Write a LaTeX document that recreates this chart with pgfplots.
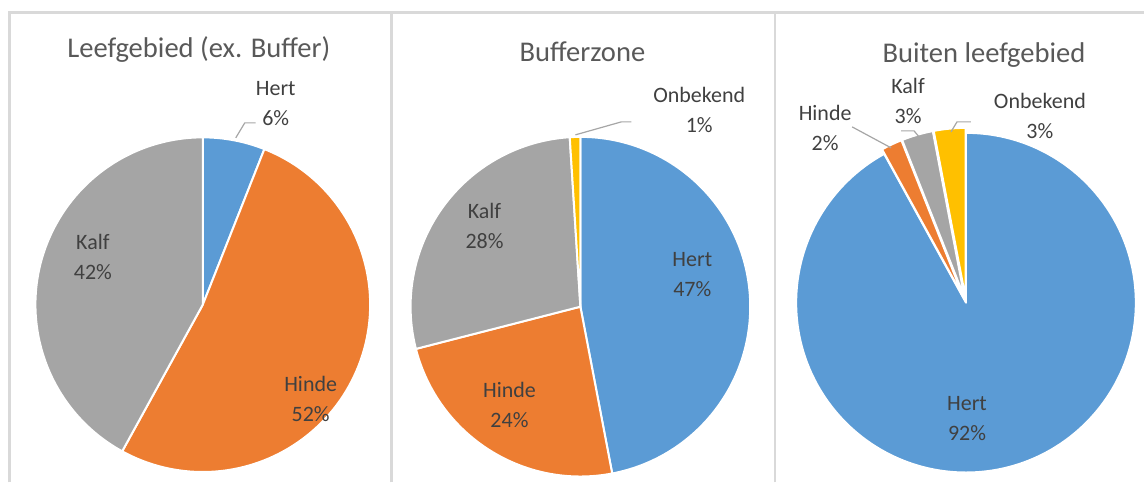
\documentclass[border=0pt]{standalone}
\usepackage{pgfplots}
\pgfplotsset{compat=1.18}
\usepackage{fontspec}
\setmainfont{Carlito}
\definecolor{pblue}{HTML}{5B9BD5}
\definecolor{porange}{HTML}{ED7D31}
\definecolor{pgray}{HTML}{A5A5A5}
\definecolor{pyellow}{HTML}{FFC000}
\definecolor{txt}{HTML}{404040}
\definecolor{ttl}{HTML}{595959}
\definecolor{frame}{HTML}{D9D9D9}
\definecolor{lead}{HTML}{A6A6A6}

% #1,#2 centre (axis units = px), #3 radius (pt), #4 list value/colour/explode(pt)
\newcommand\pie[4]{%
  \gdef\pcum{0}%
  \foreach \v/\c/\e in {#4}{%
    \pgfmathsetmacro\aA{90-3.6*\pcum}%
    \pgfmathsetmacro\aB{90-3.6*(\pcum+\v)}%
    \pgfmathsetmacro\aM{(\aA+\aB)/2}%
    \edef\tmp{\noexpand\fill[\c, draw=white, line width=1pt, line join=round]
      (axis cs:#1,#2) ++(\aM:\e pt) -- ++(\aA:#3pt)
      arc[start angle=\aA, end angle=\aB, radius=#3pt] -- cycle;}%
    \tmp
    \pgfmathsetmacro\pnew{\pcum+\v}\xdef\pcum{\pnew}%
  }}

\begin{document}
\begin{tikzpicture}[
  lbl/.style={text=txt, align=center, font=\fontsize{11}{15}\selectfont},
  tt/.style={text=ttl, font=\fontsize{14.3}{17}\selectfont},
]
\begin{axis}[
  x=0.5pt, y=0.5pt,
  xmin=0, xmax=1145, ymin=0, ymax=483,
  hide axis, clip=false,
]
% keep the full canvas as bounding box
\path (axis cs:0,0) rectangle (axis cs:1145,483);
% panel frames
\draw[frame, line width=1.2pt] (axis cs:9.5,0) -- (axis cs:9.5,470.5) -- (axis cs:1145,470.5);
\draw[frame, line width=1.2pt] (axis cs:392,0) -- (axis cs:392,470.5);
\draw[frame, line width=1.2pt] (axis cs:776,0) -- (axis cs:776,470.5);

% Leefgebied (ex. Buffer): Hert, Hinde, Kalf
\pie{203}{178}{83.75}{6/pblue/0, 52/porange/0, 42/pgray/0}
% Bufferzone: Hert, Hinde, Kalf, Onbekend
\pie{581}{176}{85}{47/pblue/0, 24/porange/0, 28/pgray/0, 1/pyellow/0}
% Buiten leefgebied: Hert, Hinde, Kalf, Onbekend
\pie{967}{180}{85}{92/pblue/0, 2/porange/2.5, 3/pgray/2.5, 3/pyellow/2.5}

% titles
\node[tt] at (axis cs:199,433) {Leefgebied (ex. Buffer)};
\node[tt] at (axis cs:583,431) {Bufferzone};
\node[tt] at (axis cs:985,428) {Buiten leefgebied};

% leader lines
\draw[lead, line width=0.6pt] (axis cs:236,345) -- (axis cs:245,360) -- (axis cs:256,360);
\draw[lead, line width=0.6pt] (axis cs:576,348) -- (axis cs:622,361) -- (axis cs:632,361);
\draw[lead, line width=0.6pt] (axis cs:853,356) -- (axis cs:892,335);
\draw[lead, line width=0.6pt] (axis cs:902,352) -- (axis cs:915,352) -- (axis cs:920,346);
\draw[lead, line width=0.6pt] (axis cs:972,361) -- (axis cs:958,361) -- (axis cs:952,351);

% data labels
\node[lbl] at (axis cs:276,379.5) {Hert\\6\%};
\node[lbl] at (axis cs:93,226) {Kalf\\42\%};
\node[lbl] at (axis cs:311,83.5) {Hinde\\52\%};

\node[lbl] at (axis cs:700,373) {Onbekend\\1\%};
\node[lbl] at (axis cs:485,257) {Kalf\\28\%};
\node[lbl] at (axis cs:693,208) {Hert\\47\%};
\node[lbl] at (axis cs:510,78) {Hinde\\24\%};

\node[lbl] at (axis cs:826,355) {Hinde\\2\%};
\node[lbl] at (axis cs:909,381.5) {Kalf\\3\%};
\node[lbl] at (axis cs:1041,367) {Onbekend\\3\%};
\node[lbl] at (axis cs:968,64) {Hert\\92\%};
\end{axis}
\end{tikzpicture}
\end{document}
